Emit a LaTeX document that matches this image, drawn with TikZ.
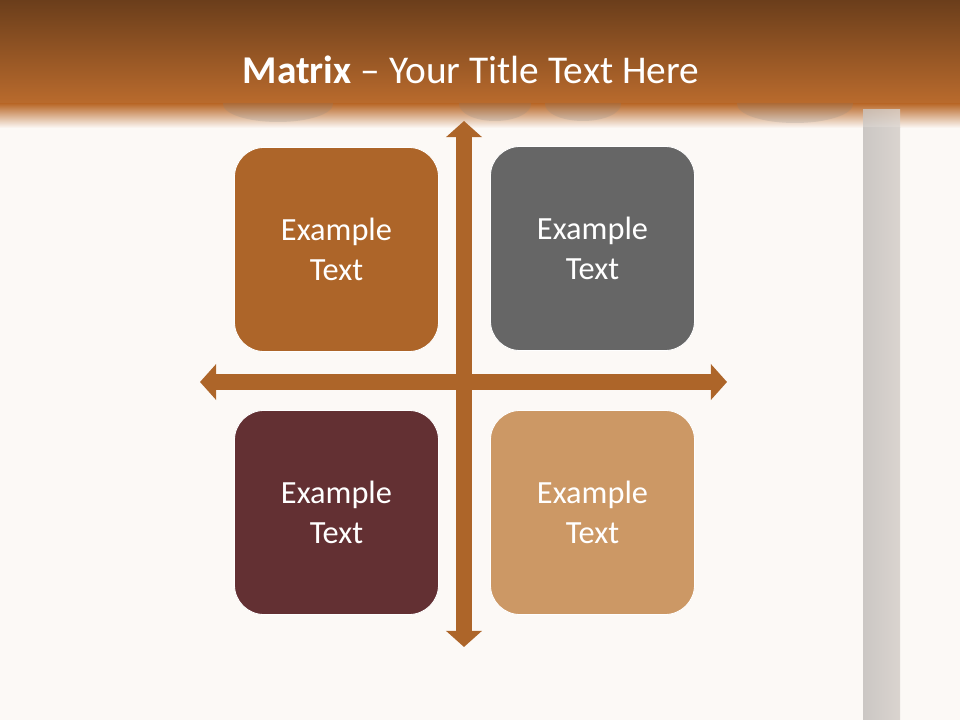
\documentclass[tikz,border=0pt]{standalone}
\usepackage{fontspec}
\setmainfont{Carlito}
\usetikzlibrary{arrows.meta}

\definecolor{pagebg}{HTML}{FCF9F6}
\definecolor{bandtop}{HTML}{6B3E1B}
\definecolor{bandbot}{HTML}{BA6B2D}
\definecolor{axiscol}{HTML}{AD6529}
\definecolor{boxrust}{HTML}{AD6529}
\definecolor{boxgrey}{HTML}{666666}
\definecolor{boxwine}{HTML}{633033}
\definecolor{boxsand}{HTML}{CC9865}
\definecolor{pillar}{HTML}{DAD4CF}
\definecolor{pillaredge}{HTML}{CBC7C4}

\begin{document}
\begin{tikzpicture}
[x=0.025cm,y=-0.025cm,%
  quad/.style={shape=rectangle,rounded corners=21pt,draw=white,line width=0.6pt,
    minimum width=5.1cm,minimum height=5.1cm,text=white,align=center,
    font=\fontsize{23}{28}\selectfont},%
  axis/.style={draw=axiscol,line width=12pt,
    {Triangle[width=25pt,length=11.5pt]}-{Triangle[width=25pt,length=11.5pt]}}]
\useasboundingbox (0,0) rectangle (960,720);
% background
\fill[pagebg] (0,0) rectangle (960,720);
% title band
\shade[top color=bandtop,bottom color=bandbot] (0,0) rectangle (960,104);
\shade[top color=bandbot,bottom color=pagebg] (0,104) rectangle (960,128);
\shade[left color=pillaredge,right color=pillar,opacity=0.8] (863,110) rectangle (900,128);
\shade[left color=pillaredge,right color=pillar] (863,128) rectangle (900,720);
\begin{scope}
  \clip (0,104) rectangle (960,128);
  \fill[gray,opacity=0.2] (278,104) ellipse (55 and 18);
  \fill[gray,opacity=0.2] (495,104) ellipse (36 and 17);
  \fill[gray,opacity=0.2] (583,104) ellipse (38 and 17);
  \fill[gray,opacity=0.2] (795,104) ellipse (58 and 19);
\end{scope}
\node[text=white,font=\fontsize{28}{32}\selectfont] (title) at (471,70)
  {\textbf{Matrix} -- Your Title Text Here};
% axes
\coordinate (top) at (464,121);
\coordinate (bottom) at (464,647);
\coordinate (left) at (200,382);
\coordinate (right) at (727,382);
\draw[axis] (left) -- (right);
\draw[axis] (bottom) -- (top);
% quadrants
\node[quad,fill=boxrust] (tl) at (336.5,249.5) {Example\\Text};
\node[quad,fill=boxgrey] (tr) at (592.5,248.5) {Example\\Text};
\node[quad,fill=boxwine] (bl) at (336.5,512.5) {Example\\Text};
\node[quad,fill=boxsand] (br) at (592.5,512.5) {Example\\Text};
\end{tikzpicture}
\end{document}
